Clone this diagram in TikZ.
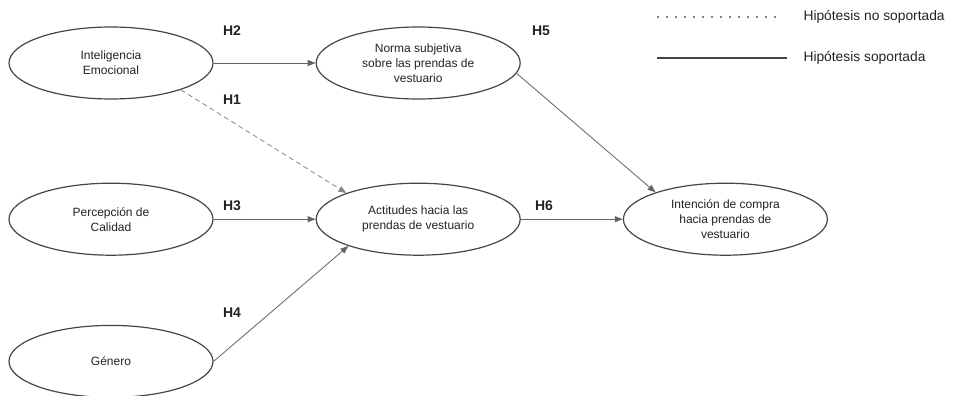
\documentclass[tikz,border=0pt]{standalone}
\usepackage{fontspec}
\setmainfont{Liberation Sans}
\usetikzlibrary{positioning,shapes.geometric,arrows.meta}

\definecolor{txtgray}{HTML}{222222}
\definecolor{edgegray}{HTML}{454545}
\definecolor{arrgray}{HTML}{626262}
\definecolor{dashgray}{HTML}{858585}

\tikzset{
  construct/.style = {ellipse, draw=edgegray, line width=1.2pt, minimum width=204pt,
                      minimum height=72pt, inner sep=0pt, align=center, text=txtgray,
                      font=\fontsize{12}{15}\selectfont},
  hyp/.style = {draw=arrgray, line width=0.8pt, -{Triangle[length=8pt,width=6pt]}},
  nohyp/.style = {hyp, draw=dashgray, dash pattern=on 5pt off 3.5pt},
  hlabel/.style = {text=txtgray, font=\fontsize{14}{16}\selectfont\bfseries},
  legtext/.style = {text=txtgray, anchor=west, font=\fontsize{13.8}{16}\selectfont},
}

\begin{document}
\begin{tikzpicture}[x=1pt, y=-1pt]
  \useasboundingbox (0,0) rectangle (954,396);

  % constructs
  \node[construct] (emo) at (111,63) {Inteligencia\\Emocional};
  \node[construct, right=102pt of emo] (norma) {Norma subjetiva\\sobre las prendas de\\vestuario};
  \node[construct, below=83pt of emo] (cal) {Percepción de\\Calidad};
  \node[construct, right=102pt of cal] (act) {Actitudes hacia las\\prendas de vestuario};
  \node[construct, right=102pt of act] (int) {Intención de compra\\hacia prendas de\\vestuario};
  \node[construct, below=69pt of cal] (gen) {Género};

  % hypotheses
  \draw[hyp] (emo) -- (norma);
  \draw[nohyp] (emo.-21) -- (act.160);
  \draw[hyp] (cal) -- (act);
  \draw[hyp] (gen.east) -- (act.-159);
  \draw[hyp] (norma.-6) -- (int.159);
  \draw[hyp] (act) -- (int);

  \node[hlabel] (h2) at (232,31) {H2};
  \node[hlabel] (h1) at (232,100) {H1};
  \node[hlabel] (h3) at (232,206) {H3};
  \node[hlabel] (h4) at (232,313) {H4};
  \node[hlabel] (h5) at (541,31) {H5};
  \node[hlabel] (h6) at (544,206) {H6};

  % legend
  \coordinate (d1) at (657,17);
  \coordinate (d2) at (780,17);
  \coordinate (s1) at (657,58);
  \coordinate (s2) at (787,58);
  \draw[dashgray, line width=1.6pt, dash pattern=on 1.6pt off 7.4pt] (d1) -- (d2);
  \draw[edgegray, line width=1.7pt] (s1) -- (s2);
  \node[legtext] (lno) at (800,17) {Hipótesis no soportada};
  \node[legtext] (lsi) at (800,58) {Hipótesis soportada};
\end{tikzpicture}
\end{document}
